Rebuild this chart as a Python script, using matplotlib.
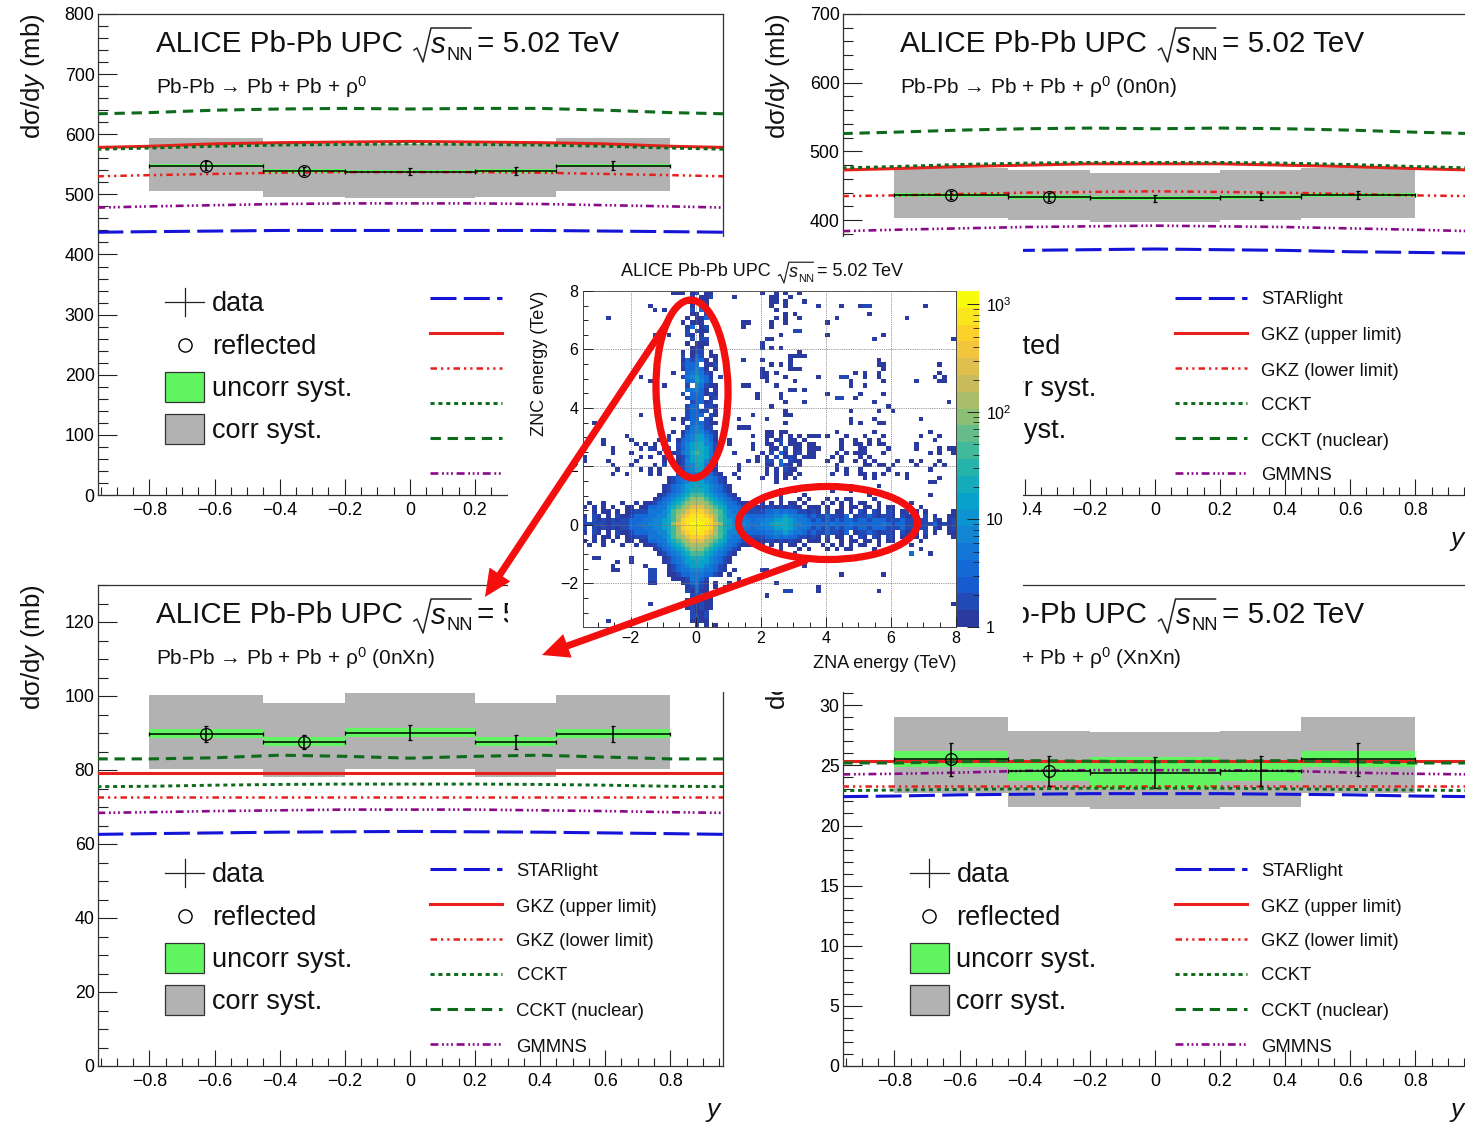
import numpy as np
import matplotlib
matplotlib.use("Agg")
import matplotlib.pyplot as plt
from matplotlib.colors import LinearSegmentedColormap, LogNorm
from matplotlib.patches import Ellipse, Rectangle
from matplotlib.ticker import MultipleLocator

plt.rcParams["font.family"] = ["Liberation Sans", "DejaVu Sans"]
plt.rcParams["mathtext.fontset"] = "custom"
plt.rcParams["mathtext.rm"] = "Liberation Sans"
plt.rcParams["mathtext.it"] = "Liberation Sans:italic"
plt.rcParams["mathtext.bf"] = "Liberation Sans:bold"

W, H = 1465, 1123

# ---------------------------------------------------------------- data
Y_KNOTS = [-0.96, -0.8, -0.6, -0.4, -0.2, 0.0, 0.2, 0.4, 0.6, 0.8, 0.97]
BIN_EDGES = [-0.8, -0.45, -0.2, 0.2, 0.45, 0.8]
BIN_CENTERS = [-0.625, -0.325, 0.0, 0.325, 0.625]
REFLECTED_X = [-0.625, -0.325]

A_STAR = [437, 438, 439, 440, 440, 440, 440, 440, 439, 438, 437]
A_GKZU = [578, 580, 584, 586, 587, 588, 587, 586, 584, 580, 578]
A_GKZL = [530, 532, 534, 536, 537, 537, 537, 536, 534, 532, 530]
A_CCKT = [575, 577, 580, 582, 583, 584, 583, 582, 580, 577, 575]
A_NUCL = [634, 636, 640, 642, 643, 642, 643, 643, 640, 636, 634]
A_GMMN = [478, 480, 482, 484, 485, 485, 485, 484, 482, 480, 478]
A_VAL = [548, 539, 538, 539, 548]
A_STAT = [7, 7, 6, 6, 7]
A_UNC = [3, 3, 3, 3, 3]
A_HI = [594.5, 583, 583, 583, 594.5]
A_LO = [505, 496, 494.5, 496, 505]

B_STAR = [352, 353, 354, 356, 357, 358, 357, 356, 354, 353, 352]
B_GKZU = [473, 475, 478, 480, 482, 482, 482, 480, 478, 475, 473]
B_GKZL = [435, 436, 438, 440, 441, 442, 441, 440, 438, 436, 435]
B_CCKT = [476, 478, 481, 483, 484, 484, 484, 483, 481, 478, 476]
B_NUCL = [526, 528, 531, 533, 534, 533, 534, 533, 531, 528, 526]
B_GMMN = [384, 386, 388, 390, 391, 392, 391, 390, 388, 386, 384]
B_VAL = [437, 434, 432, 434, 437]
B_STAT = [6, 6, 5, 5, 6]
B_UNC = [3, 3, 3, 3, 3]
B_HI = [476, 473, 469, 473, 476]
B_LO = [403, 400, 397, 400, 403]

C_STAR = [62.6, 62.8, 63.0, 63.2, 63.3, 63.4, 63.3, 63.2, 63.0, 62.8, 62.6]
C_GKZU = [79.1, 79.1, 79.1, 79.1, 79.1, 79.1, 79.1, 79.1, 79.1, 79.1, 79.1]
C_GKZL = [72.6, 72.6, 72.6, 72.6, 72.6, 72.6, 72.6, 72.6, 72.6, 72.6, 72.6]
C_CCKT = [75.5, 75.6, 75.9, 76.1, 76.2, 76.2, 76.2, 76.1, 75.9, 75.6, 75.5]
C_NUCL = [83.0, 83.0, 83.3, 84.0, 83.7, 83.2, 83.7, 84.0, 83.5, 83.0, 83.0]
C_GMMN = [68.4, 68.6, 68.9, 69.1, 69.3, 69.3, 69.3, 69.1, 68.9, 68.6, 68.4]
C_VAL = [89.8, 87.6, 90.1, 87.6, 89.8]
C_STAT = [2.2, 1.9, 2.1, 1.9, 2.2]
C_UNC = [1.2, 1.2, 1.3, 1.2, 1.2]
C_HI = [100.4, 98.2, 100.7, 98.2, 100.4]
C_LO = [80.2, 78.1, 80.3, 78.1, 80.2]

D_STAR = [22.4, 22.45, 22.55, 22.6, 22.65, 22.65, 22.65, 22.6, 22.55, 22.45, 22.4]
D_GKZU = [25.35, 25.35, 25.35, 25.35, 25.35, 25.35, 25.35, 25.35, 25.35, 25.35, 25.35]
D_GKZL = [23.3, 23.3, 23.3, 23.3, 23.3, 23.3, 23.3, 23.3, 23.3, 23.3, 23.3]
D_CCKT = [22.9, 22.95, 23.0, 23.05, 23.1, 23.1, 23.1, 23.05, 23.0, 22.95, 22.9]
D_NUCL = [25.2, 25.2, 25.3, 25.4, 25.35, 25.3, 25.35, 25.4, 25.3, 25.2, 25.2]
D_GMMN = [24.25, 24.3, 24.4, 24.55, 24.6, 24.6, 24.6, 24.55, 24.4, 24.3, 24.25]
D_VAL = [25.5, 24.55, 24.4, 24.55, 25.5]
D_STAT = [1.35, 1.25, 1.3, 1.25, 1.35]
D_UNC = [0.67, 0.85, 1.33, 0.85, 0.67]
D_HI = [29.0, 27.9, 27.8, 27.9, 29.0]
D_LO = [22.7, 21.5, 21.4, 21.5, 22.7]

THEORY_NAMES = ["STARlight", "GKZ (upper limit)", "GKZ (lower limit)", "CCKT", "CCKT (nuclear)", "GMMNS"]
SYST_NAMES = ["data", "reflected", "uncorr syst.", "corr syst."]

# ZNA/ZNC map, 80x80 cells, top row first; "_" = ten empty cells.
HEAT_LEVELS = {"1": 1, "2": 2, "3": 3, "4": 5, "5": 8, "6": 14, "7": 25, "8": 45, "9": 80,
               "a": 150, "b": 280, "c": 500, "d": 900, "e": 1300}
HEAT_ROWS = [
    "_ .........1 11.12.11.. ........1. .1.1..1... _ _ _",
    "_ _ ...2.112.. ..1....... 11..1..... _ _ _",
    "_ _ ..11.11... _ 11.1...1.. _ _ _",
    "_ ....1..... ...1.21... _ 1..1...... 1....1...1 22........ ...1......",
    "_ .....1.1.. ...2.31... _ .1........ _ _ _",
    "_ _ ...11.2... _ ...1.1.... _ .1........ _",
    ".....1.... _ ..1.113... _ .1.1..1... ....1..... .........1 _",
    "_ _ .1.111.... ....11.... 1..1...... ..1....... _ _",
    "_ _ ..13.12... ....1..... 1......... _ _ _",
    "_ _ ..2.211... _ .....22... _ _ _",
    "_ .....22.1. ..21.1.... _ ..1....... ..1....... ....1..... _",
    "_ _ ...2.22... .........1 1......... _ ..1....... .........1",
    "_ _ ..1.111... ........1. _ _ _ _",
    "_ _ ...121.... ........1. 1.1....... _ _ _",
    "_ _ .1.122.1.. _ ......1... _ _ _",
    "_ _ .2.132.11. _ ....1111.. _ _ _",
    "_ _ .132431.1. ....1...1. ....1..... _ ...1...... _",
    "_ _ .2334.112. _ 1.1.1..... _ ...11..... ......1...",
    "_ _ .133531.1. ........1. ....111... _ ....1..... _",
    "_ .........1 ..345421.. ........11 .1........ ........1. 1..1...... ......1...",
    "_ ..1....... .2456431.2 ........11 ...1...... 1....22... 1..1...... .....1.1..",
    "_ ....1..... ..346532.. .........1 .....1.... .......1.. ....1..... .1....11..",
    "_ .......1.. ..2.54211. ....11.... .1........ .......1.. 1......... _",
    "_ _ ..34531.1. _ ....11.1.. _ _ _",
    "_ _ .2.343121. .......1.. ..1....... ..1......1 ....1..... _",
    "_ _ ..2333.12. .......1.. ..1....... ....22..1. _ _",
    "_ _ ...23312.. _ ...1...1.. _ ..1....... ........1.",
    "_ _ ..233.221. _ 1......... _ .....1.... _",
    "_ _ ..23322.1. _ ...1...... .......1.. ...1..1... _",
    "_ ..1....... ..2333.21. ......1... ...11..... _ _ _",
    "_ .........1 .1233.21.. ...1.....1 _ .......1.. ..1....... ..1.......",
    "..1....... _ .1.343211. _ ...1...... .......1.1 ...11..... _",
    "_ _ ..245422.. ...111.... _ _ _ _",
    "_ .........1 .13455321. .........1 1.11...... ....1..... ..1....... ....1.....",
    ".........1 ........1. .24566431. ......1..1 1.1.1.1.11 1.1...1... 1...1..... ..1...1...",
    "....1..... 1.....1.2. 134566531. .1.......1 .12.11.1.. .....1..1. .1.1...... .....1....",
    "....1..... .1.1.1.1.. 235677542. .1....1..1 1.2.111.11 .....1..11 .1.11..... .1........",
    "......1... ..1.21.12. 235677642. ......1... 11.2.11.11 1....1...1 1....1.... .1....1.11",
    "......1... 1.....1..1 245787642. ..1.....1. 2.31.12.11 ....1.1.11 1...1..... ....1.1..1",
    "1......... ..1.1..1.. 124677642. .......1.1 .2.121.111 ...1.1...1 .1........ _",
    "1....1.... .1.....1.. 125677531. .....1.1.2 2.3.211... ..1..1..1. 1.1....1.. 1.1...1...",
    "......1... 1....1.2.. 124576421. ...1.....1 1.321.1... ....1..... 11.11.1... .1...1.1..",
    ".......1.. ..1.1.1... 124566421. ...1.....1 .1.211.... ....1.1..1 .....1.... ....1.....",
    "......1..1 ....1.1... 2334443321 ..1......1 .1.11.1... ...1..1..1 1.1.1..1.1 _",
    "_ ........12 3445554432 1..1....1. .1.1.1.... _ 1.1......1 ......1...",
    "_ ........12 3456665432 1......... .1........ _ _ ....11....",
    "_ .......123 4566766543 21........ _ .......1.. ...1...... _",
    "_ .......123 4567776543 21........ ..1..1.... ...1...1.. _ _",
    "_ ......1234 5678887654 321....... ..1....1.. _ .1........ ....1.....",
    "_ .....12345 6789998765 4321....1. ..1...1.1. ..1.1.11.. ..1....1.. _",
    ".1..1...1. .1.1123456 789aaa9876 5432111.1. 1.1.11.1.. .1.1.1.1.1 1..1...... 1.........",
    "1.1.1.1..1 1.11334467 89abbba987 6443212112 2121211.11 1.1..1.11. 11.1.11..1 ..1.......",
    "..1.11.1.1 1222444568 9abcccba98 6544322223 3434332212 1.2.11.1.2 1.21.21.12 .1.1.....1",
    "1.21.1.211 2333445578 abcdddcba8 7554433334 4556544323 2232213.12 2321221.21 11.2.1..11",
    "2.21212122 3334455678 acddeddca8 7655443445 5667654432 3232323323 3233322232 2122.21.12",
    "2222212222 3344555679 bcdeeedcb9 7655544455 6777655443 3334333433 3333432332 2222231212",
    "2.21212122 3334455678 acddeddca8 7655443445 5667654432 3232323323 3233322232 2122.21.12",
    "1.21.1.211 2333445578 abcdddcba8 7554433334 4556544323 2232213.12 2321221.21 11.2.1..11",
    "..1.11.1.1 1222444568 9abcccba98 6544322223 3434332212 1.2.11.1.2 1.21.21.12 .1.1.....1",
    "1.1.1.1..1 1.11334467 89abbba987 6443212112 2121211.11 1.1..1.11. 11.1.11..1 ..1.......",
    ".1..1...1. .1.1123456 789aaa9876 5432111.1. 1.1.11.1.. .1.1.1.1.1 1..1...... 1.........",
    "_ .....12345 6789998765 4321....1. ..1...1.1. ..1.1.11.. ..1....... ..1.......",
    "_ ......1234 5678887654 321....... .....1.... _ _ 3...1.....",
    "..11...... 1......123 4567776543 21........ ........1. _ _ _",
    ".......1.. 1......123 4566766543 21........ .......1.. _ _ _",
    "......1... ...1....12 3456665432 1......... ....1..1.. _ _ _",
    "......11.. ....22..12 3445554432 1.1.....11 _ _ _ _",
    "_ ....22..11 2334443321 .1........ _ .....1.... ....1..... _",
    "_ ....22...1 1124432... ...1...... _ _ _ _",
    "_ ....11.... .123421.1. .1.1...... .1........ _ _ _",
    "_ _ ..12321.1. 1......... _ 1......... _ _",
    "_ _ ..21311... _ ...22..... 1......... ...1...... _",
    "_ _ ...22311.. .........1 _ _ _ _",
    "_ _ ..112111.. _ _ _ _ _",
    "_ ....1..... ...21211.. _ _ _ _ .........1",
    "_ _ ..121211.. _ _ _ _ _",
    "_ _ ...2112... _ _ _ _ _",
    "_ _ ...2212... _ _ _ _ _",
    ".....1.... _ ...1211... _ _ _ _ _",
    "_ _ ....2.1.1. _ _ _ _ _",
]

# ---------------------------------------------------------------- helpers
def box(l, t, r, b):
    return [l / W, 1 - b / H, (r - l) / W, (b - t) / H]

fig = plt.figure(figsize=(W / 100, H / 100), dpi=100, facecolor="white")

COL_BLUE = "#1414d8"
COL_RED = "#e8201c"
COL_GREEN = "#0e6b1c"
COL_PURPLE = "#8a0a8a"
COL_UNC = "#62f562"
COL_COR = "#b2b2b2"
INK = "#222222"

STYLES = [
    dict(color=COL_BLUE, ls=(0, (8.5, 2.4)), lw=2.2),
    dict(color=COL_RED, ls="-", lw=2.2),
    dict(color=COL_RED, ls=(0, (2.6, 1.6, 0.9, 1.6, 0.9, 1.6)), lw=1.8),
    dict(color=COL_GREEN, ls=(0, (1.4, 1.3)), lw=2.1),
    dict(color=COL_GREEN, ls=(0, (3.4, 2.2)), lw=2.2),
    dict(color=COL_PURPLE, ls=(0, (3.0, 1.4, 0.7, 1.0, 0.7, 1.0, 0.7, 1.4)), lw=1.9),
]

panel_axes = []

def draw_panel(rect, ymax, ymajor, yminor, curves, val, stat, unc, hi, lo):
    ax = fig.add_axes(box(*rect), zorder=1)
    panel_axes.append(ax)
    edges = np.array(BIN_EDGES)
    widths = np.diff(edges)
    val, stat, unc, hi, lo = map(np.array, (val, stat, unc, hi, lo))
    ax.bar(edges[:-1], hi - lo, widths, lo, align="edge", color=COL_COR, lw=0, zorder=1)
    ax.bar(edges[:-1], 2 * unc, widths, val - unc, align="edge", color=COL_UNC, lw=0, zorder=2)
    for c, st in zip(curves, STYLES):
        ax.plot(Y_KNOTS, c, zorder=3, **st)
    ax.errorbar(BIN_CENTERS, val, xerr=widths / 2, yerr=stat, fmt="none", ecolor="black",
                elinewidth=1.1, capsize=1.3, capthick=0.9, zorder=4)
    ax.plot(REFLECTED_X, val[:2], ls="none", marker="o", mfc="none", mec="black", ms=8.5, mew=0.9, zorder=5)
    ax.set_xlim(-0.958, 0.962)
    ax.set_ylim(0, ymax)
    ax.xaxis.set_major_locator(MultipleLocator(0.2))
    ax.xaxis.set_minor_locator(MultipleLocator(0.05))
    ax.yaxis.set_major_locator(MultipleLocator(ymajor))
    ax.yaxis.set_minor_locator(MultipleLocator(yminor))
    ax.tick_params(axis="x", which="major", direction="in", length=11.5, width=0.8, labelsize=12.8, pad=5, color=INK)
    ax.tick_params(axis="x", which="minor", direction="in", length=5.8, width=0.8, color=INK)
    ax.tick_params(axis="y", which="major", direction="in", length=14, width=0.8, labelsize=12.8, pad=2.5, color=INK)
    ax.tick_params(axis="y", which="minor", direction="in", length=7, width=0.8, color=INK)
    for s in ax.spines.values():
        s.set_linewidth(0.9)
        s.set_color("#333333")
    ax.set_xticks([t for t in np.arange(-0.8, 0.81, 0.2)])
    ax.set_xticklabels(["\u22120.8", "\u22120.6", "\u22120.4", "\u22120.2", "0", "0.2", "0.4", "0.6", "0.8"])
    return ax

draw_panel((98, 14, 723, 495), 800, 100, 20, [A_STAR, A_GKZU, A_GKZL, A_CCKT, A_NUCL, A_GMMN],
           A_VAL, A_STAT, A_UNC, A_HI, A_LO)
draw_panel((843, 14, 1468, 495), 700, 100, 20, [B_STAR, B_GKZU, B_GKZL, B_CCKT, B_NUCL, B_GMMN],
           B_VAL, B_STAT, B_UNC, B_HI, B_LO)
draw_panel((98, 585, 723, 1066), 130, 20, 5, [C_STAR, C_GKZU, C_GKZL, C_CCKT, C_NUCL, C_GMMN],
           C_VAL, C_STAT, C_UNC, C_HI, C_LO)
draw_panel((843, 585, 1468, 1066), 40, 5, 1, [D_STAR, D_GKZU, D_GKZL, D_CCKT, D_NUCL, D_GMMN],
           D_VAL, D_STAT, D_UNC, D_HI, D_LO)

# ---------------------------------------------------------------- text / legends in pixel coordinates
under = fig.add_axes([0, 0, 1, 1], zorder=2)
under.set_xlim(0, W)
under.set_ylim(H, 0)
under.axis("off")
under.patch.set_alpha(0)

TITLE_A = "ALICE Pb-Pb UPC"
TITLE_C = "= 5.02 TeV"
SUBS = ["", " (0n0n)", " (0nXn)", " (XnXn)"]
OFFS = [(0, 0), (744.5, 0), (0, 571), (744.5, 571)]


def title_at(ax, x, y, fs):
    """Title in three parts; the root sign is drawn so its width follows the reference."""
    k = fs / 21.3
    ax.text(x, y, TITLE_A, fontsize=fs, va="center", ha="left", color="#111111")
    rx = x + 258 * k
    ax.plot([rx, rx + 3 * k, rx + 9 * k, rx + 17 * k, rx + 57 * k],
            [y + 6 * k, y + 4 * k, y + 18 * k, y - 16 * k, y - 16 * k], color="#222222", lw=1.1 * max(k, 0.8))
    ax.text(rx + 17 * k, y + 1 * k, "s", fontsize=fs, style="italic", va="center", ha="left", color="#111111")
    ax.text(rx + 33 * k, y + 11 * k, "NN", fontsize=fs * 0.62, va="center", ha="left", color="#111111")
    ax.text(x + 321 * k, y, TITLE_C, fontsize=fs, va="center", ha="left", color="#111111")


for (dx, dy), sub in zip(OFFS, SUBS):
    title_at(under, 156 + dx, 44 + dy, 21.3)
    under.text(156 + dx, 87 + dy, "Pb-Pb \u2192 Pb + Pb + \u03c1$^{0}$" + sub,
               fontsize=15, va="center", ha="left", color="#111111")
    under.text(33 + dx, 13 + dy, "d\u03c3/d$y$ (mb)", fontsize=18.6, rotation=90, ha="center", va="top", color="#111111")
    under.text(713 + dx, 539 + dy, "y", fontsize=19, style="italic", ha="center", va="center", color="#111111")
    # left legend
    under.plot([165 + dx, 204 + dx], [302 + dy, 302 + dy], color=INK, lw=0.9)
    under.plot([184.5 + dx, 184.5 + dx], [288 + dy, 316 + dy], color=INK, lw=0.9)
    under.plot([184.5 + dx], [344.5 + dy], marker="o", mfc="none", mec="black", ms=9.5, mew=1)
    under.add_patch(Rectangle((165 + dx, 372 + dy), 39, 30, fc=COL_UNC, ec="#333333", lw=0.9))
    under.add_patch(Rectangle((165 + dx, 414 + dy), 39, 30, fc=COL_COR, ec="#333333", lw=0.9))
    for name, yy in zip(SYST_NAMES, [304, 347, 389, 431]):
        under.text(212 + dx, yy + dy, name, fontsize=19.5, va="center", ha="left", color="#111111")
    # right legend
    for name, st, yl, yt in zip(THEORY_NAMES, STYLES, [298, 333, 368, 403, 438, 473], [300, 336, 371, 405, 441, 476]):
        under.plot([430 + dx, 502 + dx], [yl + dy, yl + dy], **st)
        under.text(516.5 + dx, yt + dy, name, fontsize=13.3, va="center", ha="left", color="#111111")

# ---------------------------------------------------------------- white inset background
COVER = (508, 237, 1023, 692)
cover = fig.add_axes([0, 0, 1, 1], zorder=3)
cover.set_xlim(0, W)
cover.set_ylim(H, 0)
cover.axis("off")
cover.patch.set_alpha(0)
cover.add_patch(Rectangle((COVER[0], COVER[1]), COVER[2] - COVER[0], COVER[3] - COVER[1], fc="white", ec="none"))
title_at(cover, 621, 272, 13)
cover.text(956, 663, "ZNA energy (TeV)", fontsize=13, ha="right", va="center", color="#111111")
cover.text(539, 291, "ZNC energy (TeV)", fontsize=13, rotation=90, ha="center", va="top", color="#111111")

# ---------------------------------------------------------------- heat map
rows = []
for line in HEAT_ROWS:
    cols = []
    for g in line.split():
        g = ".........." if g == "_" else g.ljust(10, ".")[:10]
        cols.extend(HEAT_LEVELS.get(ch, 0) for ch in g)
    rows.append(cols)
heat = np.array(rows, dtype=float)[::-1]
heat = np.ma.masked_where(heat <= 0, heat)

BIRD = ["#2a3a9e", "#1560d8", "#1481d6", "#06a4ca", "#2eb7a4", "#87bf77", "#d1bb59", "#fec832", "#f9fb0e"]
cmap = LinearSegmentedColormap.from_list("bird", BIRD, N=20)
cmap.set_bad("white")
norm = LogNorm(1, 1334)

hax = fig.add_axes(box(582.5, 291, 956, 627), zorder=4)
xe = np.linspace(-3.48, 8, 81)
ye = np.linspace(-3.49, 8, 81)
mesh = hax.pcolormesh(xe, ye, heat, cmap=cmap, norm=norm, rasterized=True, zorder=1)
hax.set_xlim(-3.48, 8)
hax.set_ylim(-3.49, 8)
hax.xaxis.set_major_locator(MultipleLocator(2))
hax.xaxis.set_minor_locator(MultipleLocator(0.5))
hax.yaxis.set_major_locator(MultipleLocator(2))
hax.yaxis.set_minor_locator(MultipleLocator(0.5))
hax.grid(True, which="major", color="#777777", ls=(0, (1, 1.2)), lw=0.6, zorder=2)
hax.set_axisbelow(False)
hax.tick_params(which="major", direction="in", length=7, width=0.7, labelsize=11.5, pad=3, color=INK)
hax.tick_params(which="minor", direction="in", length=3.5, width=0.7, color=INK)
hax.set_xticks([-2, 0, 2, 4, 6, 8])
hax.set_xticklabels(["\u22122", "0", "2", "4", "6", "8"])
hax.set_yticks([-2, 0, 2, 4, 6, 8])
hax.set_yticklabels(["\u22122", "0", "2", "4", "6", "8"])
for s in hax.spines.values():
    s.set_linewidth(0.7)
    s.set_color("#444444")

cax = fig.add_axes(box(957, 291, 979, 627), zorder=4)
cb = fig.colorbar(mesh, cax=cax)
cb.outline.set_linewidth(0)
cb.set_ticks([1, 10, 100, 1000])
cb.set_ticklabels(["1", "10", "$10^{2}$", "$10^{3}$"])
cax.tick_params(which="major", direction="in", length=9, width=0.7, labelsize=11.5, pad=5, color=INK)
cax.tick_params(which="minor", direction="in", length=4.5, width=0.6, color=INK)

# ---------------------------------------------------------------- red annotations
over = fig.add_axes([0, 0, 1, 1], zorder=5)
over.set_xlim(0, W)
over.set_ylim(H, 0)
over.axis("off")
over.patch.set_alpha(0)
RED = "#f40f0f"
over.add_patch(Ellipse((692, 389), 72, 178, angle=-1, fc="none", ec=RED, lw=5.2))
over.add_patch(Ellipse((828, 523), 179, 73, angle=0, fc="none", ec=RED, lw=5.2))
over.arrow(667, 323, 485 - 667, 597 - 323, width=7, head_width=25, head_length=27,
           length_includes_head=True, fc=RED, ec=RED, lw=0)
over.arrow(807, 560, 542 - 807, 655 - 560, width=7, head_width=25, head_length=27,
           length_includes_head=True, fc=RED, ec=RED, lw=0)

# texts that lie wholly under the white inset cannot be seen in the picture: switch them off
fig.canvas.draw()
rend = fig.canvas.get_renderer()
candidates = list(under.texts)
for ax in panel_axes:
    candidates += list(ax.get_xticklabels()) + list(ax.get_yticklabels())
for t in candidates:
    bb = t.get_window_extent(rend)
    if bb.x0 >= COVER[0] and bb.x1 <= COVER[2] and H - bb.y1 >= COVER[1] and H - bb.y0 <= COVER[3]:
        t.set_visible(False)

fig.savefig("out.png", dpi=100)
